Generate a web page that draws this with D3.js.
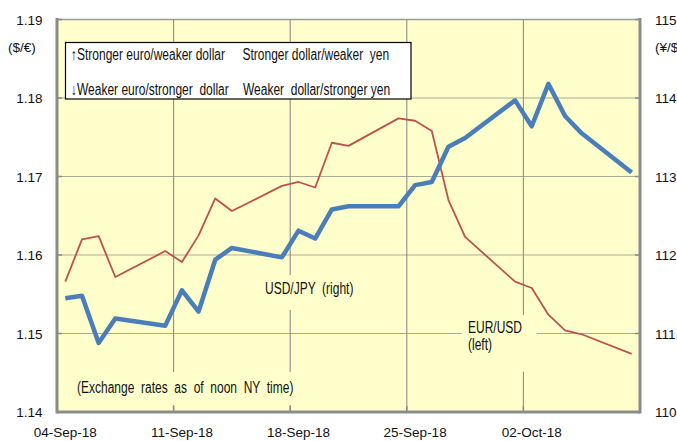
<!DOCTYPE html>
<html><head><meta charset="utf-8">
<script src="https://cdn.jsdelivr.net/npm/d3@7"></script>
<style>
html,body{margin:0;padding:0;background:#fff;}
svg text{font-family:"Liberation Sans",Arial,sans-serif;fill:#111;}
</style></head>
<body>
<svg id="c" width="677" height="441"></svg>
<script>
// ---- data ----
const dates = ["2018-09-04","2018-09-05","2018-09-06","2018-09-07","2018-09-10","2018-09-11","2018-09-12","2018-09-13","2018-09-14",
  "2018-09-17","2018-09-18","2018-09-19","2018-09-20","2018-09-21","2018-09-24","2018-09-25","2018-09-26","2018-09-27","2018-09-28",
  "2018-10-01","2018-10-02","2018-10-03","2018-10-04","2018-10-05","2018-10-08"];
const eurusd = [1.1566,1.1620,1.1624,1.1572,1.1605,1.1591,1.1625,1.1672,1.1656,
  1.1688,1.1693,1.1686,1.1743,1.1739,1.1774,1.1771,1.1758,1.1670,1.1623,
  1.1566,1.1558,1.1524,1.1504,1.1499,1.1474];
const usdjpy = [111.45,111.48,110.88,111.19,111.10,111.55,111.28,111.94,112.09,
  111.97,112.31,112.21,112.58,112.62,112.62,112.89,112.93,113.38,113.49,
  113.97,113.64,114.18,113.77,113.55,113.05];
const leftTicks = [1.14,1.15,1.16,1.17,1.18,1.19];
const rightTicks = [110,111,112,113,114,115];
const xTickDates = ["2018-09-04","2018-09-11","2018-09-18","2018-09-25","2018-10-02"];
const xTickLabels = ["04-Sep-18","11-Sep-18","18-Sep-18","25-Sep-18","02-Oct-18"];

// ---- layout ----
const L = 57, R = 640, T = 19.5, B = 412;
const P = d3.utcParse("%Y-%m-%d");
const HALF = 12*3600*1000;
const x = d3.scaleUtc().domain([P("2018-09-04"), P("2018-10-09")]).range([L, R]);
const yL = d3.scaleLinear().domain([1.14, 1.19]).range([B, T]);
const yR = d3.scaleLinear().domain([110, 115]).range([B, T]);
const svg = d3.select("#c");
const bg = "#FFFFCC";

svg.append("rect").attr("x", L).attr("y", T).attr("width", R-L).attr("height", B-T).attr("fill", bg);

// horizontal gridlines
svg.append("g").selectAll("line").data(leftTicks.filter(v=>v>1.14)).join("line")
  .attr("x1", L).attr("x2", R).attr("y1", d=>yL(d)).attr("y2", d=>yL(d))
  .attr("stroke", d=> d===1.19 ? "#9a9a9a" : "#ABA99A").attr("stroke-width", d=>d===1.19?1.5:1.2);
// vertical gridlines
svg.append("g").selectAll("line").data(xTickDates.slice(1)).join("line")
  .attr("x1", d=>x(P(d))).attr("x2", d=>x(P(d))).attr("y1", T).attr("y2", B)
  .attr("stroke", "#8E8E8E").attr("stroke-width", 1.1);

// label backing boxes (cover gridlines)
const boxes = [[258,275,100,35],[70,372,232,33],[461.7,315,75,56.7]];
svg.append("g").selectAll("rect").data(boxes).join("rect")
  .attr("x", d=>d[0]).attr("y", d=>d[1]).attr("width", d=>d[2]).attr("height", d=>d[3]).attr("fill", bg);

// tick marks
const tk = svg.append("g").attr("stroke", "#8a8a8a").attr("stroke-width", 1.5);
tk.selectAll(".lt").data(leftTicks).join("line").attr("x1", L).attr("x2", L+5).attr("y1", d=>yL(d)).attr("y2", d=>yL(d));
tk.selectAll(".rt").data(rightTicks).join("line").attr("x1", R-5).attr("x2", R).attr("y1", d=>yR(d)).attr("y2", d=>yR(d));
tk.selectAll(".bt").data(xTickDates).join("line").attr("x1", d=>x(P(d))).attr("x2", d=>x(P(d))).attr("y1", B-6).attr("y2", B);

// axis frame lines
const ax = svg.append("g").attr("stroke", "#8C8C8C").attr("stroke-width", 3).attr("fill", "none");
ax.append("line").attr("x1", L).attr("x2", L).attr("y1", T-1.5).attr("y2", B+1.5);
ax.append("line").attr("x1", R).attr("x2", R).attr("y1", T-1.5).attr("y2", B+1.5);
ax.append("line").attr("x1", L).attr("x2", R).attr("y1", B).attr("y2", B);

// lines
const lineL = d3.line().x((d,i)=>x(new Date(P(dates[i]).getTime()+HALF))).y(d=>yL(d));
const lineR = d3.line().x((d,i)=>x(new Date(P(dates[i]).getTime()+HALF))).y(d=>yR(d));
svg.append("path").datum(eurusd).attr("d", lineL).attr("fill","none").attr("stroke","#C0504D").attr("stroke-width",1.8).attr("stroke-linejoin","round");
svg.append("path").datum(usdjpy).attr("d", lineR).attr("fill","none").attr("stroke","#4A7EBB").attr("stroke-width",4.5).attr("stroke-linejoin","round");

// axis labels
const fmtL = d3.format(".2f");
svg.append("g").selectAll("text").data(leftTicks).join("text")
  .attr("x", 42.5).attr("y", d=>yL(d)+5).attr("text-anchor","end").style("font-size","13.5px").text(d=>fmtL(d));
svg.append("g").selectAll("text").data(rightTicks).join("text")
  .attr("x", 655).attr("y", d=>yR(d)+5).style("font-size","13.5px").text(d=>d);
svg.append("g").selectAll("text").data(xTickDates).join("text")
  .attr("x", d=>x(new Date(P(d).getTime()+HALF))).attr("y", 436.5).attr("text-anchor","middle").style("font-size","13.5px")
  .text((d,i)=>xTickLabels[i]);
svg.append("text").attr("x", 8).attr("y", 52).style("font-size","13.5px").text("($/€)");
svg.append("text").attr("x", 655).attr("y", 52).style("font-size","13.5px").text("(¥/$)");

// legend box
svg.append("rect").attr("x", 65.5).attr("y", 42.5).attr("width", 345.5).attr("height", 56.5).attr("fill","#fff").attr("stroke","#000").attr("stroke-width",1.2);

// stretched annotation text
function note(tx, ty, str) {
  svg.append("text").attr("transform", `translate(${tx},${ty}) scale(1,1.3)`)
    .style("font-size","12px").style("white-space","pre").text(str);
}
note(71, 60, "↑Stronger euro/weaker dollar");
note(71, 95, "↓Weaker euro/stronger  dollar");
note(242.5, 60, "Stronger dollar/weaker  yen");
note(243, 95, "Weaker  dollar/stronger yen");
note(265, 294, "USD/JPY  (right)");
note(468, 333, "EUR/USD");
note(468, 350, "(left)");
note(77, 392.5, "(Exchange  rates  as  of  noon  NY  time)");
</script>
</body></html>
